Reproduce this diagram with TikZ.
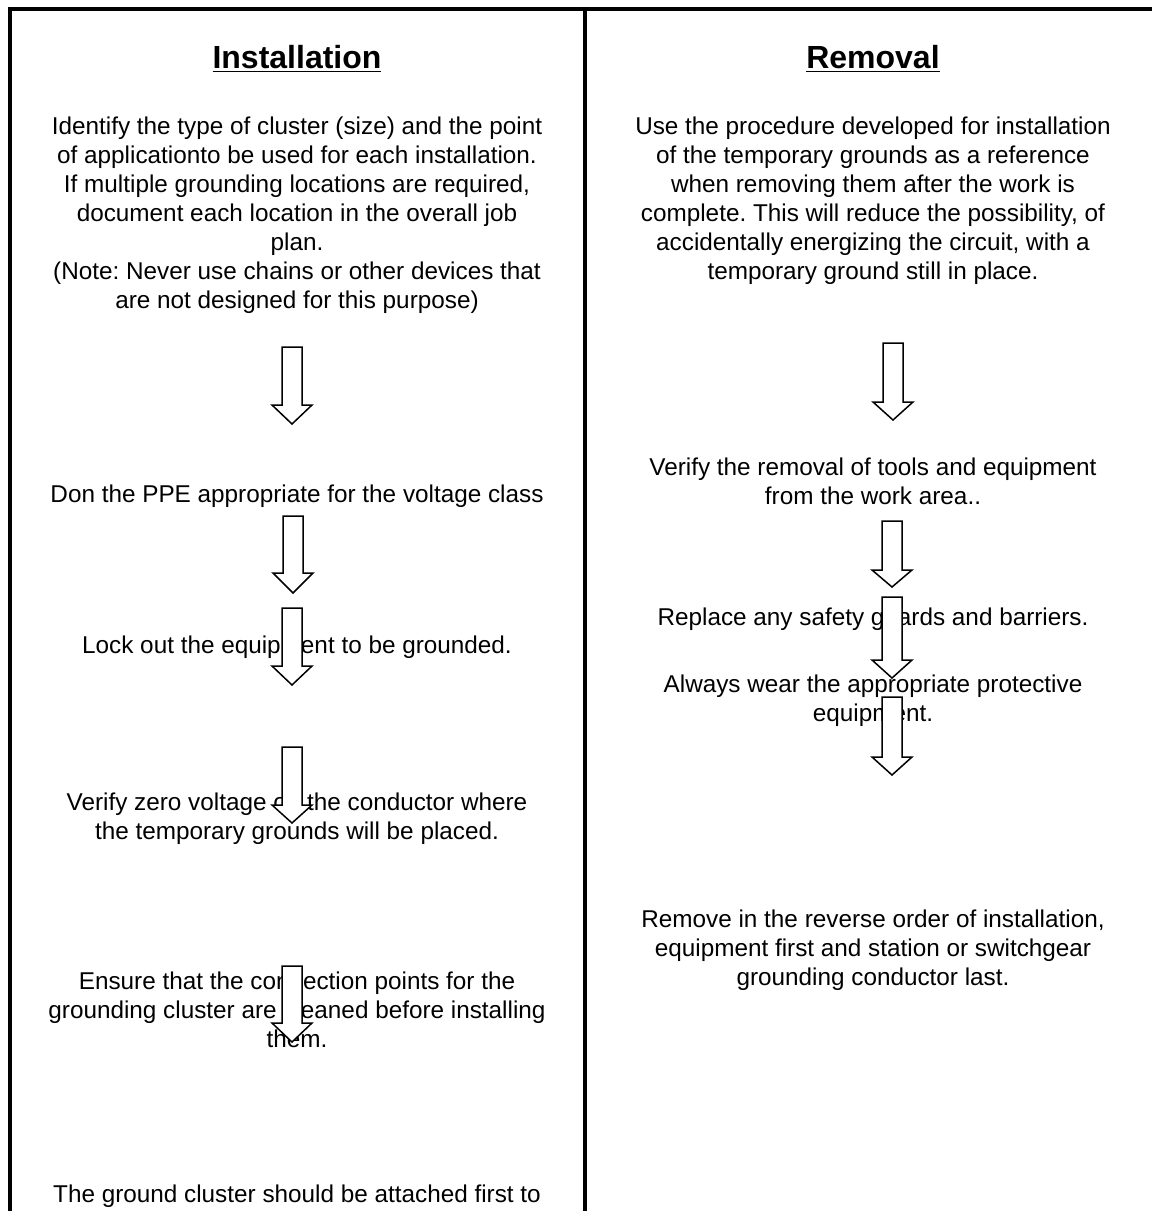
\documentclass[tikz,border=0pt]{standalone}
\usepackage{fontspec}
\setmainfont{Liberation Sans}
\frenchspacing
\newcommand{\blkarrow}[4]{% x, ytop, yhead, ytip
  \draw[blockarrow] (#1-10,#2) -- (#1+10,#2) -- (#1+10,#3) -- (#1+20,#3) -- (#1,#4)
    -- (#1-20,#3) -- (#1-10,#3) -- cycle;}
\begin{document}
\begin{tikzpicture}[x=0.5pt,y=-0.5pt,
  txt/.style={align=center, inner sep=0pt, font=\fontsize{12.15}{14.5}\selectfont},
  ttl/.style={inner sep=0pt, font=\fontsize{16}{19}\selectfont\bfseries},
  frame/.style={line width=2pt},
  blockarrow/.style={draw=black, fill=white, line width=0.75pt, line join=miter}]
\useasboundingbox (0,0) rectangle (1152,1211);
% frame
\draw[frame] (10,1230) -- (10,8.5) -- (1170,8.5);
\draw[frame] (585,8.5) -- (585,1230);
% titles
\node[ttl] (tinst) at (297,59) {\underline{Installation}};
\node[ttl] (trem) at (873,59) {\underline{Removal}};
% left column
\node[txt] (i1) at (297,215) {Identify the type of cluster (size) and the point\\
of applicationto be used for each installation.\\
If multiple grounding locations are required,\\
document each location in the overall job\\
plan.\\
(Note: Never use chains or other devices that\\
are not designed for this purpose)};
\node[txt] (i2) at (297,496) {Don the PPE appropriate for the voltage class};
\node[txt] (i3) at (297,647) {Lock out the equipment to be grounded.};
\node[txt] (i4) at (297,818.5) {Verify zero voltage on the conductor where\\
the temporary grounds will be placed.};
\node[txt] (i5) at (297,1010) {Ensure that the connection points for the\\
grounding cluster are cleaned before installing\\
them.};
\node[txt] (i6) at (297,1196) {The ground cluster should be attached first to};
% right column
\node[txt] (r1) at (873,200.5) {Use the procedure developed for installation\\
of the temporary grounds as a reference\\
when removing them after the work is\\
complete. This will reduce the possibility, of\\
accidentally energizing the circuit, with a\\
temporary ground still in place.};
\node[txt] (r2) at (873,481.5) {Verify the removal of tools and equipment\\
from the work area..};
\node[txt] (r3) at (873,619) {Replace any safety guards and barriers.};
\node[txt] (r4) at (873,700.5) {Always wear the appropriate protective\\
equipment.};
\node[txt] (r5) at (873,950) {Remove in the reverse order of installation,\\
equipment first and station or switchgear\\
grounding conductor last.};
% block arrows
\blkarrow{292}{347}{405}{424}
\blkarrow{293}{516}{573}{593}
\blkarrow{292}{608}{666}{685}
\blkarrow{292}{747}{805}{823}
\blkarrow{292}{966}{1023}{1042}
\blkarrow{893}{343}{402}{420}
\blkarrow{892}{521}{570}{587}
\blkarrow{892}{597}{660}{678}
\blkarrow{892}{697}{757}{775}
\end{tikzpicture}
\end{document}
